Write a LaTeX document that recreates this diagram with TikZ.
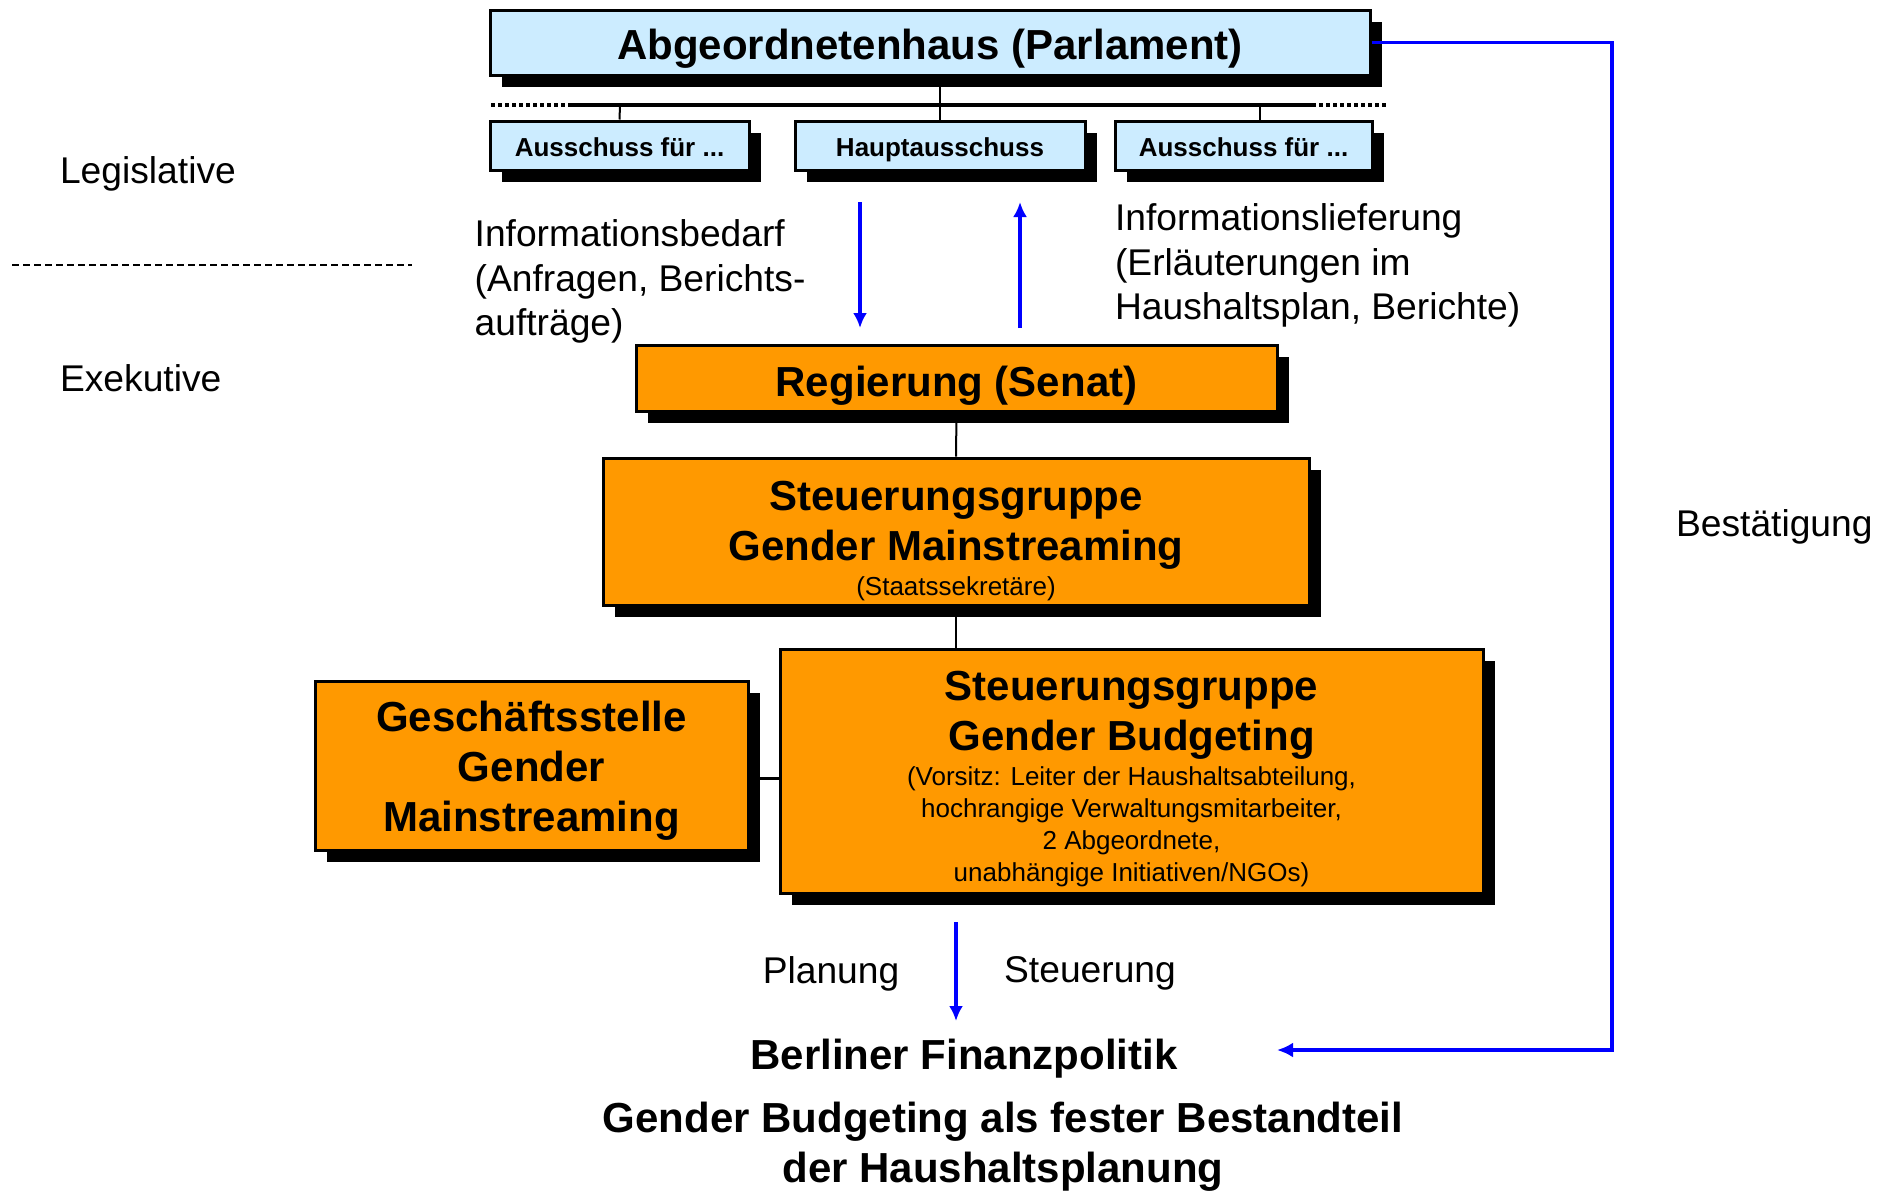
\documentclass[tikz,border=0pt]{standalone}
\usepackage{fontspec}
\setmainfont{Liberation Sans}
\usepackage{tikz}
\usetikzlibrary{arrows.meta,shadows,backgrounds}

\definecolor{hellblau}{HTML}{CCECFF}
\definecolor{gborange}{HTML}{FF9900}
\newcommand{\grossfett}{\fontsize{21}{25}\selectfont\bfseries}
\newcommand{\mittelfett}{\fontsize{13}{15.6}\selectfont\bfseries}
\newcommand{\klein}{\fontsize{13}{15.75}\selectfont\mdseries}
\newcommand{\normaltext}{\fontsize{18.6}{22.25}\selectfont}
\newcommand{\oben}[1]{\rule{0pt}{#1}}

\begin{document}
\begin{tikzpicture}[x=0.5pt,y=-0.5pt,
    box/.style={draw=black,line width=1.5pt,inner sep=0pt,align=center,
      drop shadow={shadow xshift=6pt,shadow yshift=-6pt,opacity=1,fill=black}},
    blaubox/.style={box,fill=hellblau},
    ausschuss/.style={blaubox,minimum height=24.5pt,font=\mittelfett,text height=12pt,text depth=1.2pt},
    orangebox/.style={box,fill=gborange,font=\grossfett},
    pfeil/.style={-{Latex[length=7.5pt,width=7pt]},blue,line width=1.6pt},
    linie/.style={black,line width=1pt}]
  \useasboundingbox (0,0) rectangle (1888,1190);
  % Legislative
  \node[blaubox,minimum width=440pt,minimum height=32.5pt,font=\grossfett,text height=19pt,text depth=2pt] (parl) at (930,42.5) {Abgeordnetenhaus (Parlament)};
  \node[ausschuss,minimum width=129.5pt] (aus1) at (619.5,145.5) {Ausschuss für ...};
  \node[ausschuss,minimum width=145pt] (haupt) at (940,145.5) {Hauptausschuss};
  \node[ausschuss,minimum width=128.5pt] (aus3) at (1243.5,145.5) {Ausschuss für ...};
  \coordinate (bus1) at (620,105);
  \coordinate (bus2) at (940,105);
  \coordinate (bus3) at (1260,105);
  % Exekutive
  \node[orangebox,minimum width=320.5pt,minimum height=33pt,text height=20pt,text depth=1.3pt] (reg) at (956.5,378) {Regierung (Senat)};
  \node[orangebox,minimum width=353pt,minimum height=73.5pt] (sgm) at (956,531.5)
    {\oben{23.8pt}Steuerungsgruppe\\Gender Mainstreaming\\[-7.5pt]\klein (Staatssekretäre)};
  \node[orangebox,minimum width=351.5pt,minimum height=122pt] (sgb) at (1131.5,771)
    {\oben{22.6pt}Steuerungsgruppe\\Gender Budgeting\\[-7.5pt]\klein (Vorsitz: Leiter der Haushaltsabteilung,\\[-9.1pt]\klein hochrangige Verwaltungsmitarbeiter,\\[-9.1pt]\klein 2 Abgeordnete,\\[-9.1pt]\klein unabhängige Initiativen/NGOs)};
  \node[orangebox,minimum width=216.5pt,minimum height=84.5pt] (gst) at (531.5,765.5) {\oben{20.2pt}Geschäftsstelle\\Gender\\Mainstreaming};
  \coordinate (gbl) at (780,778);
  % Texte
  \node[anchor=west,font=\normaltext] (legis) at (53,173.6) {Legislative};
  \node[anchor=west,font=\normaltext] (exek) at (53,378) {Exekutive};
  \draw[black,line width=0.6pt,dash pattern=on 3.5pt off 2pt] (12,265) -- (412,265);
  \node[anchor=west,align=left,font=\normaltext] (bedarf) at (467.6,281.6) {Informationsbedarf\\(Anfragen, Berichts-\\aufträge)};
  \node[anchor=west,align=left,font=\normaltext] (liefer) at (1108,265.6) {Informationslieferung\\(Erläuterungen im\\Haushaltsplan, Berichte)};
  \node[font=\normaltext] (planung) at (831,973.6) {Planung};
  \node[font=\normaltext] (steuer) at (1090,973.6) {Steuerung};
  \node[font=\grossfett] (fin) at (964,1058.8) {Berliner Finanzpolitik};
  \node[font=\grossfett,align=center] (gbfest) at (1003,1146.5) {Gender Budgeting als fester Bestandteil\\der Haushaltsplanung};
  \node[anchor=west,font=\normaltext] (best) at (1669,526.6) {Bestätigung};
  \coordinate (ab1) at (860,202);
  \coordinate (ab2) at (860,328);
  \coordinate (auf1) at (1020,328);
  \coordinate (auf2) at (1020,202);
  \coordinate (plan1) at (956,922);
  \coordinate (plan2) at (956,1021);
  \coordinate (bestR) at (1612,1050);
  \coordinate (fintip) at (1277,1050);
  % Verbindungen
  \begin{scope}[on background layer]
    \draw[black,line width=1.75pt] (572,105) -- (1312,105);
    \draw[black,line width=1.75pt,dash pattern=on 2.2pt off 1.3pt] (491,105) -- (572,105);
    \draw[black,line width=1.75pt,dash pattern=on 2.2pt off 1.3pt] (1312,105) -- (1387,105);
    \draw[linie] (bus2 |- parl.south) -- (haupt.north);
    \draw[linie] (bus1) -- (aus1.north);
    \draw[linie] (bus3) -- (bus3 |- aus3.north);
    \draw[linie] (reg.south) -- (sgm.north);
    \draw[linie] (sgm.south) -- (sgm.south |- sgb.north);
    \draw[linie,line width=1.5pt] (gbl -| gst.east) -- (gbl);
  \end{scope}
  \draw[blue,line width=1.75pt,-{Latex[length=8pt,width=7.5pt]}] (parl.east) -| (bestR) -- (fintip);
  \draw[pfeil] (ab1) -- (ab2);
  \draw[pfeil] (auf1) -- (auf2);
  \draw[pfeil] (plan1) -- (plan2);
\end{tikzpicture}
\end{document}
